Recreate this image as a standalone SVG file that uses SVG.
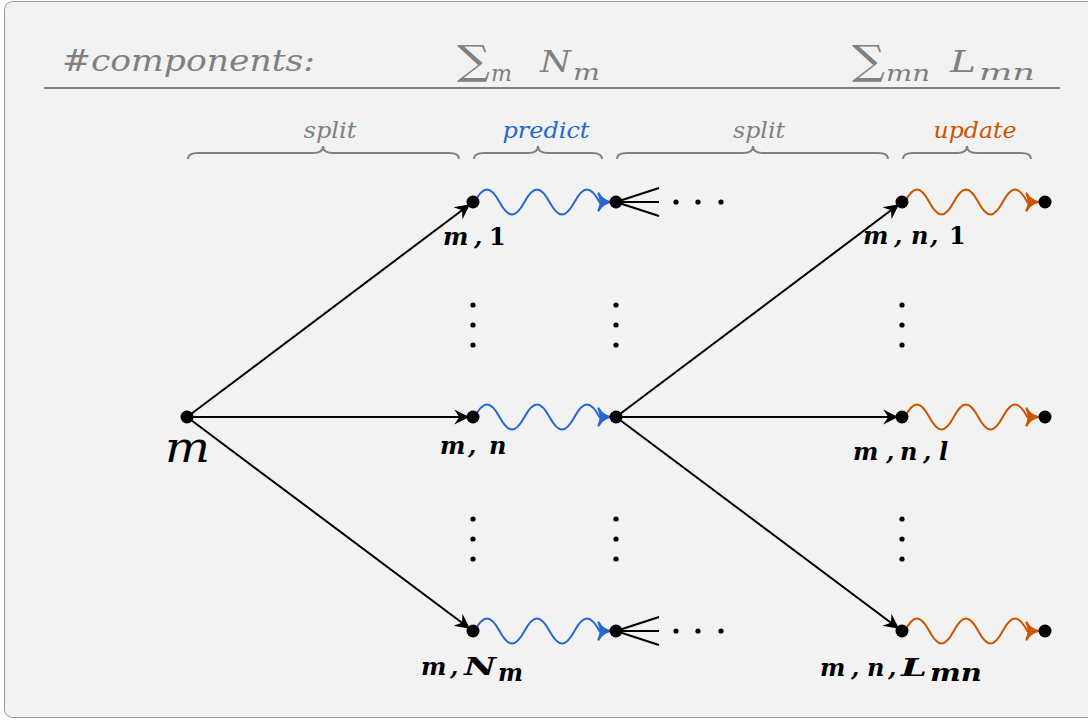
<svg xmlns="http://www.w3.org/2000/svg" width="1088" height="721" viewBox="0 0 1088 721">
<style>
.hdr{font-family:"DejaVu Serif",serif;font-style:italic;fill:#808080}
.sum{font-family:"DejaVu Serif",serif;fill:#808080}
.brace{fill:none;stroke:#808080;stroke-width:2}
.blab{font-family:"DejaVu Serif",serif;font-style:italic;font-size:22px;text-anchor:middle}
.lbl{font-family:"DejaVu Serif",serif;font-style:italic;font-weight:bold;font-size:24px;fill:#000}
.up{font-style:normal}
.arr{stroke:#000;stroke-width:2;fill:none;marker-end:url(#stealth)}
.fan{stroke:#000;stroke-width:2;fill:none}
.wb{stroke:#2468d0;stroke-width:2;fill:none;marker-end:url(#tob)}
.wo{stroke:#cc5500;stroke-width:2;fill:none;marker-end:url(#too)}
.dot{fill:#000}
</style>
<defs>
<marker id="stealth" markerUnits="userSpaceOnUse" orient="auto" markerWidth="20" markerHeight="20" refX="0" refY="0" viewBox="-14 -7 16 14" overflow="visible">
<path d="M-3,0 L-15,-6 L-11,0 L-15,6 Z" fill="#000"/>
</marker>
<marker id="tob" markerUnits="userSpaceOnUse" orient="auto" markerWidth="20" markerHeight="20" refX="0" refY="0" viewBox="-10 -7 12 14" overflow="visible">
<path d="M-8,-6 C-6,-2 -2,-0.5 0,0 C-2,0.5 -6,2 -8,6 C-6,2 -6,-2 -8,-6 Z" fill="#2468d0" stroke="#2468d0" stroke-width="1.6" stroke-linejoin="round"/>
</marker>
<marker id="too" markerUnits="userSpaceOnUse" orient="auto" markerWidth="20" markerHeight="20" refX="0" refY="0" viewBox="-10 -7 12 14" overflow="visible">
<path d="M-8,-6 C-6,-2 -2,-0.5 0,0 C-2,0.5 -6,2 -8,6 C-6,2 -6,-2 -8,-6 Z" fill="#cc5500" stroke="#cc5500" stroke-width="1.6" stroke-linejoin="round"/>
</marker>
</defs>
<rect x="0" y="0" width="1088" height="721" fill="#ffffff"/>
<rect x="4.5" y="1.5" width="1100" height="716" rx="8" fill="#f2f2f2" stroke="#999999" stroke-width="1"/>

<g id="header">
<text class="hdr" x="62" y="71" font-size="29" textLength="253" lengthAdjust="spacingAndGlyphs">#components:</text>
<text class="sum" x="457" y="74" font-size="40" textLength="33" lengthAdjust="spacingAndGlyphs">∑</text>
<text class="hdr" x="491" y="81" font-size="22" textLength="21" lengthAdjust="spacingAndGlyphs">m</text>
<text class="hdr" x="540" y="72" font-size="29" textLength="31" lengthAdjust="spacingAndGlyphs">N</text>
<text class="hdr" x="573" y="80" font-size="22" textLength="27" lengthAdjust="spacingAndGlyphs">m</text>
<text class="sum" x="852" y="74" font-size="40" textLength="33" lengthAdjust="spacingAndGlyphs">∑</text>
<text class="hdr" x="886" y="81" font-size="22" textLength="44" lengthAdjust="spacingAndGlyphs">mn</text>
<text class="hdr" x="950" y="72" font-size="29" textLength="26" lengthAdjust="spacingAndGlyphs">L</text>
<text class="hdr" x="979" y="80" font-size="22" textLength="56" lengthAdjust="spacingAndGlyphs">mn</text>
<line x1="44" y1="88" x2="1060" y2="88" stroke="#808080" stroke-width="2"/>
</g>

<g id="braces">
<path class="brace" d="M188,159 Q188,153 198,153 L313,153 Q323,153 323,146 Q323,153 333,153 L449,153 Q459,153 459,159"/>
<path class="brace" d="M474,159 Q474,153 484,153 L528,153 Q538,153 538,146 Q538,153 548,153 L592,153 Q602,153 602,159"/>
<path class="brace" d="M617,159 Q617,153 627,153 L743,153 Q753,153 753,146 Q753,153 763,153 L878,153 Q888,153 888,159"/>
<path class="brace" d="M903,159 Q903,153 913,153 L957,153 Q967,153 967,146 Q967,153 977,153 L1021,153 Q1031,153 1031,159"/>
<text class="blab" x="330" y="138" fill="#808080" textLength="53" lengthAdjust="spacingAndGlyphs">split</text>
<text class="blab" x="546" y="138" fill="#2468d0" textLength="87" lengthAdjust="spacingAndGlyphs">predict</text>
<text class="blab" x="759" y="138" fill="#808080" textLength="52" lengthAdjust="spacingAndGlyphs">split</text>
<text class="blab" x="975" y="138" fill="#cc5500" textLength="83" lengthAdjust="spacingAndGlyphs">update</text>
</g>

<g id="connectors">
<line class="arr" x1="187" y1="417" x2="473" y2="202"/>
<line class="arr" x1="187" y1="417" x2="473" y2="417"/>
<line class="arr" x1="187" y1="417" x2="473" y2="631"/>
<line class="arr" x1="616" y1="417" x2="902" y2="202"/>
<line class="arr" x1="616" y1="417" x2="902" y2="417"/>
<line class="arr" x1="616" y1="417" x2="902" y2="631"/>
<path class="wb" d="M474.5,202 c9.1,-16.7 15.9,-16.7 25,0 s15.9,16.7 25,0 s15.9,-16.7 25,0 s15.9,16.7 25,0 s15.9,-16.7 25,0 L610,202"/>
<path class="wb" d="M474.5,417 c9.1,-16.7 15.9,-16.7 25,0 s15.9,16.7 25,0 s15.9,-16.7 25,0 s15.9,16.7 25,0 s15.9,-16.7 25,0 L610,417"/>
<path class="wb" d="M474.5,631 c9.1,-16.7 15.9,-16.7 25,0 s15.9,16.7 25,0 s15.9,-16.7 25,0 s15.9,16.7 25,0 s15.9,-16.7 25,0 L610,631"/>
<path class="wo" d="M904.75,202 c8.9,-16.7 15.6,-16.7 24.5,0 s15.6,16.7 24.5,0 s15.6,-16.7 24.5,0 s15.6,16.7 24.5,0 s15.6,-16.7 24.5,0 L1038,202"/>
<path class="wo" d="M904.75,417 c8.9,-16.7 15.6,-16.7 24.5,0 s15.6,16.7 24.5,0 s15.6,-16.7 24.5,0 s15.6,16.7 24.5,0 s15.6,-16.7 24.5,0 L1038,417"/>
<path class="wo" d="M904.75,631 c8.9,-16.7 15.6,-16.7 24.5,0 s15.6,16.7 24.5,0 s15.6,-16.7 24.5,0 s15.6,16.7 24.5,0 s15.6,-16.7 24.5,0 L1038,631"/>
<path class="fan" d="M616,202 L659,188 M616,202 L659,202 M616,202 L659,216"/>
<path class="fan" d="M616,631 L659,617 M616,631 L659,631 M616,631 L659,645"/>
</g>

<g id="ellipses">
<circle class="dot" cx="676" cy="202" r="2.6"/><circle class="dot" cx="698" cy="202" r="2.6"/><circle class="dot" cx="721" cy="202" r="2.6"/>
<circle class="dot" cx="676" cy="631" r="2.6"/><circle class="dot" cx="698" cy="631" r="2.6"/><circle class="dot" cx="721" cy="631" r="2.6"/>
<circle class="dot" cx="473" cy="305" r="2.6"/><circle class="dot" cx="473" cy="325" r="2.6"/><circle class="dot" cx="473" cy="345" r="2.6"/>
<circle class="dot" cx="616" cy="305" r="2.6"/><circle class="dot" cx="616" cy="325" r="2.6"/><circle class="dot" cx="616" cy="345" r="2.6"/>
<circle class="dot" cx="902" cy="305" r="2.6"/><circle class="dot" cx="902" cy="325" r="2.6"/><circle class="dot" cx="902" cy="345" r="2.6"/>
<circle class="dot" cx="473" cy="519" r="2.6"/><circle class="dot" cx="473" cy="539" r="2.6"/><circle class="dot" cx="473" cy="559" r="2.6"/>
<circle class="dot" cx="616" cy="519" r="2.6"/><circle class="dot" cx="616" cy="539" r="2.6"/><circle class="dot" cx="616" cy="559" r="2.6"/>
<circle class="dot" cx="902" cy="519" r="2.6"/><circle class="dot" cx="902" cy="539" r="2.6"/><circle class="dot" cx="902" cy="559" r="2.6"/>
</g>

<g id="node-m">
<circle class="dot" cx="187" cy="417" r="6.5"/>
<text x="165" y="462" font-family="DejaVu Serif, serif" font-style="italic" font-size="42" textLength="45" lengthAdjust="spacingAndGlyphs">m</text>
</g>
<g id="node-m1">
<circle class="dot" cx="473" cy="202" r="6.5"/>
<text class="lbl" y="245"><tspan x="443">m</tspan><tspan x="474">,</tspan><tspan x="489" class="up">1</tspan></text>
</g>
<g id="node-mn">
<circle class="dot" cx="473" cy="417" r="6.5"/>
<text class="lbl" y="454"><tspan x="440">m</tspan><tspan x="468">,</tspan><tspan x="489">n</tspan></text>
</g>
<g id="node-mNm">
<circle class="dot" cx="473" cy="631" r="6.5"/>
<text class="lbl" y="675"><tspan x="421">m</tspan><tspan x="450">,</tspan></text>
<text class="lbl" x="464" y="675" textLength="32" lengthAdjust="spacingAndGlyphs">N</text>
<text class="lbl" x="498" y="681" textLength="25" lengthAdjust="spacingAndGlyphs">m</text>
</g>
<g id="node-p1"><circle class="dot" cx="616" cy="202" r="6.5"/></g>
<g id="node-pn"><circle class="dot" cx="616" cy="417" r="6.5"/></g>
<g id="node-pN"><circle class="dot" cx="616" cy="631" r="6.5"/></g>
<g id="node-mn1">
<circle class="dot" cx="902" cy="202" r="6.5"/>
<text class="lbl" y="244"><tspan x="863">m</tspan><tspan x="894">,</tspan><tspan x="911">n</tspan><tspan x="930">,</tspan><tspan x="949" class="up">1</tspan></text>
</g>
<g id="node-mnl">
<circle class="dot" cx="902" cy="417" r="6.5"/>
<text class="lbl" y="460"><tspan x="853">m</tspan><tspan x="886">,</tspan><tspan x="900">n</tspan><tspan x="923">,</tspan><tspan x="939">l</tspan></text>
</g>
<g id="node-mnL">
<circle class="dot" cx="902" cy="631" r="6.5"/>
<text class="lbl" y="676"><tspan x="820">m</tspan><tspan x="851">,</tspan><tspan x="867">n</tspan><tspan x="888">,</tspan></text>
<text class="lbl" x="901" y="676" textLength="26" lengthAdjust="spacingAndGlyphs">L</text>
<text class="lbl" x="930" y="681" textLength="52" lengthAdjust="spacingAndGlyphs">mn</text>
</g>
<g id="node-u1"><circle class="dot" cx="1045" cy="202" r="6.5"/></g>
<g id="node-ul"><circle class="dot" cx="1045" cy="417" r="6.5"/></g>
<g id="node-uL"><circle class="dot" cx="1045" cy="631" r="6.5"/></g>
</svg>
